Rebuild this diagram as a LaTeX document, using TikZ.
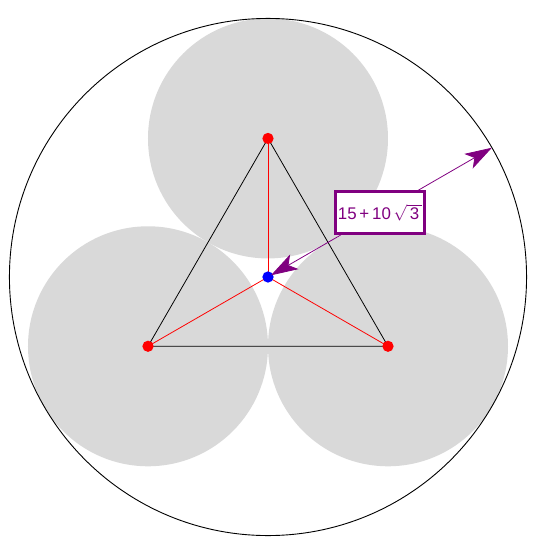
\documentclass[tikz,border=0pt]{standalone}
\usepackage{fontspec}
\setmainfont{Liberation Sans}
\usetikzlibrary{arrows.meta}
\definecolor{labelpurple}{RGB}{128,0,128}
\definecolor{diskgray}{RGB}{217,217,217}

\tikzset{
    disk/.style={fill=diskgray, draw=none},
    dot/.style={circle, inner sep=0pt, minimum size=10pt},
    spoke/.style={red, line width=0.7pt},
    side/.style={black, line width=0.7pt},
    radiusarrow/.style={labelpurple, line width=0.7pt,
        {Stealth[length=24pt, width=15pt, inset=6pt]}-{Stealth[length=24pt, width=15pt, inset=6pt]}},
    radiuslabel/.style={draw=labelpurple, line width=2.4pt, fill=white, text=labelpurple,
        minimum width=79pt, minimum height=37pt, inner sep=2pt, font=\fontsize{15}{18}\selectfont}
}

\begin{document}
\begin{tikzpicture}[x=0.25cm, y=0.25cm]

    \useasboundingbox (-33.5,-34) rectangle (34.375,34.625);

    % centres of the three small circles and of the big one
    \coordinate (O) at (0,0);
    \coordinate (A) at (90:17.3205);
    \coordinate (B) at (210:17.3205);
    \coordinate (C) at (330:17.3205);
    \coordinate (T) at (30:32.3205);

    % three small circles, radius 15
    \fill[disk] (A) circle (15);
    \fill[disk] (B) circle (15);
    \fill[disk] (C) circle (15);

    % big circle, radius 15 + 10 sqrt 3
    \draw[line width=0.8pt] (O) circle (32.3205);

    % triangle of centres
    \draw[side] (A) -- (B) -- (C) -- cycle;

    % spokes from the middle
    \draw[spoke] (O) -- (A);
    \draw[spoke] (O) -- (B);
    \draw[spoke] (O) -- (C);

    \node[dot, fill=red] (a) at (A) {};
    \node[dot, fill=red] (b) at (B) {};
    \node[dot, fill=red] (c) at (C) {};
    \node[dot, fill=blue] (o) at (O) {};

    % the radius with its value
    \draw[radiusarrow, shorten <=3pt] (o.center) -- (T)
        node[radiuslabel, pos=0.5] (r) {15\,+\,10\,$\sqrt{\,\mbox{3}\,}$};

\end{tikzpicture}
\end{document}
